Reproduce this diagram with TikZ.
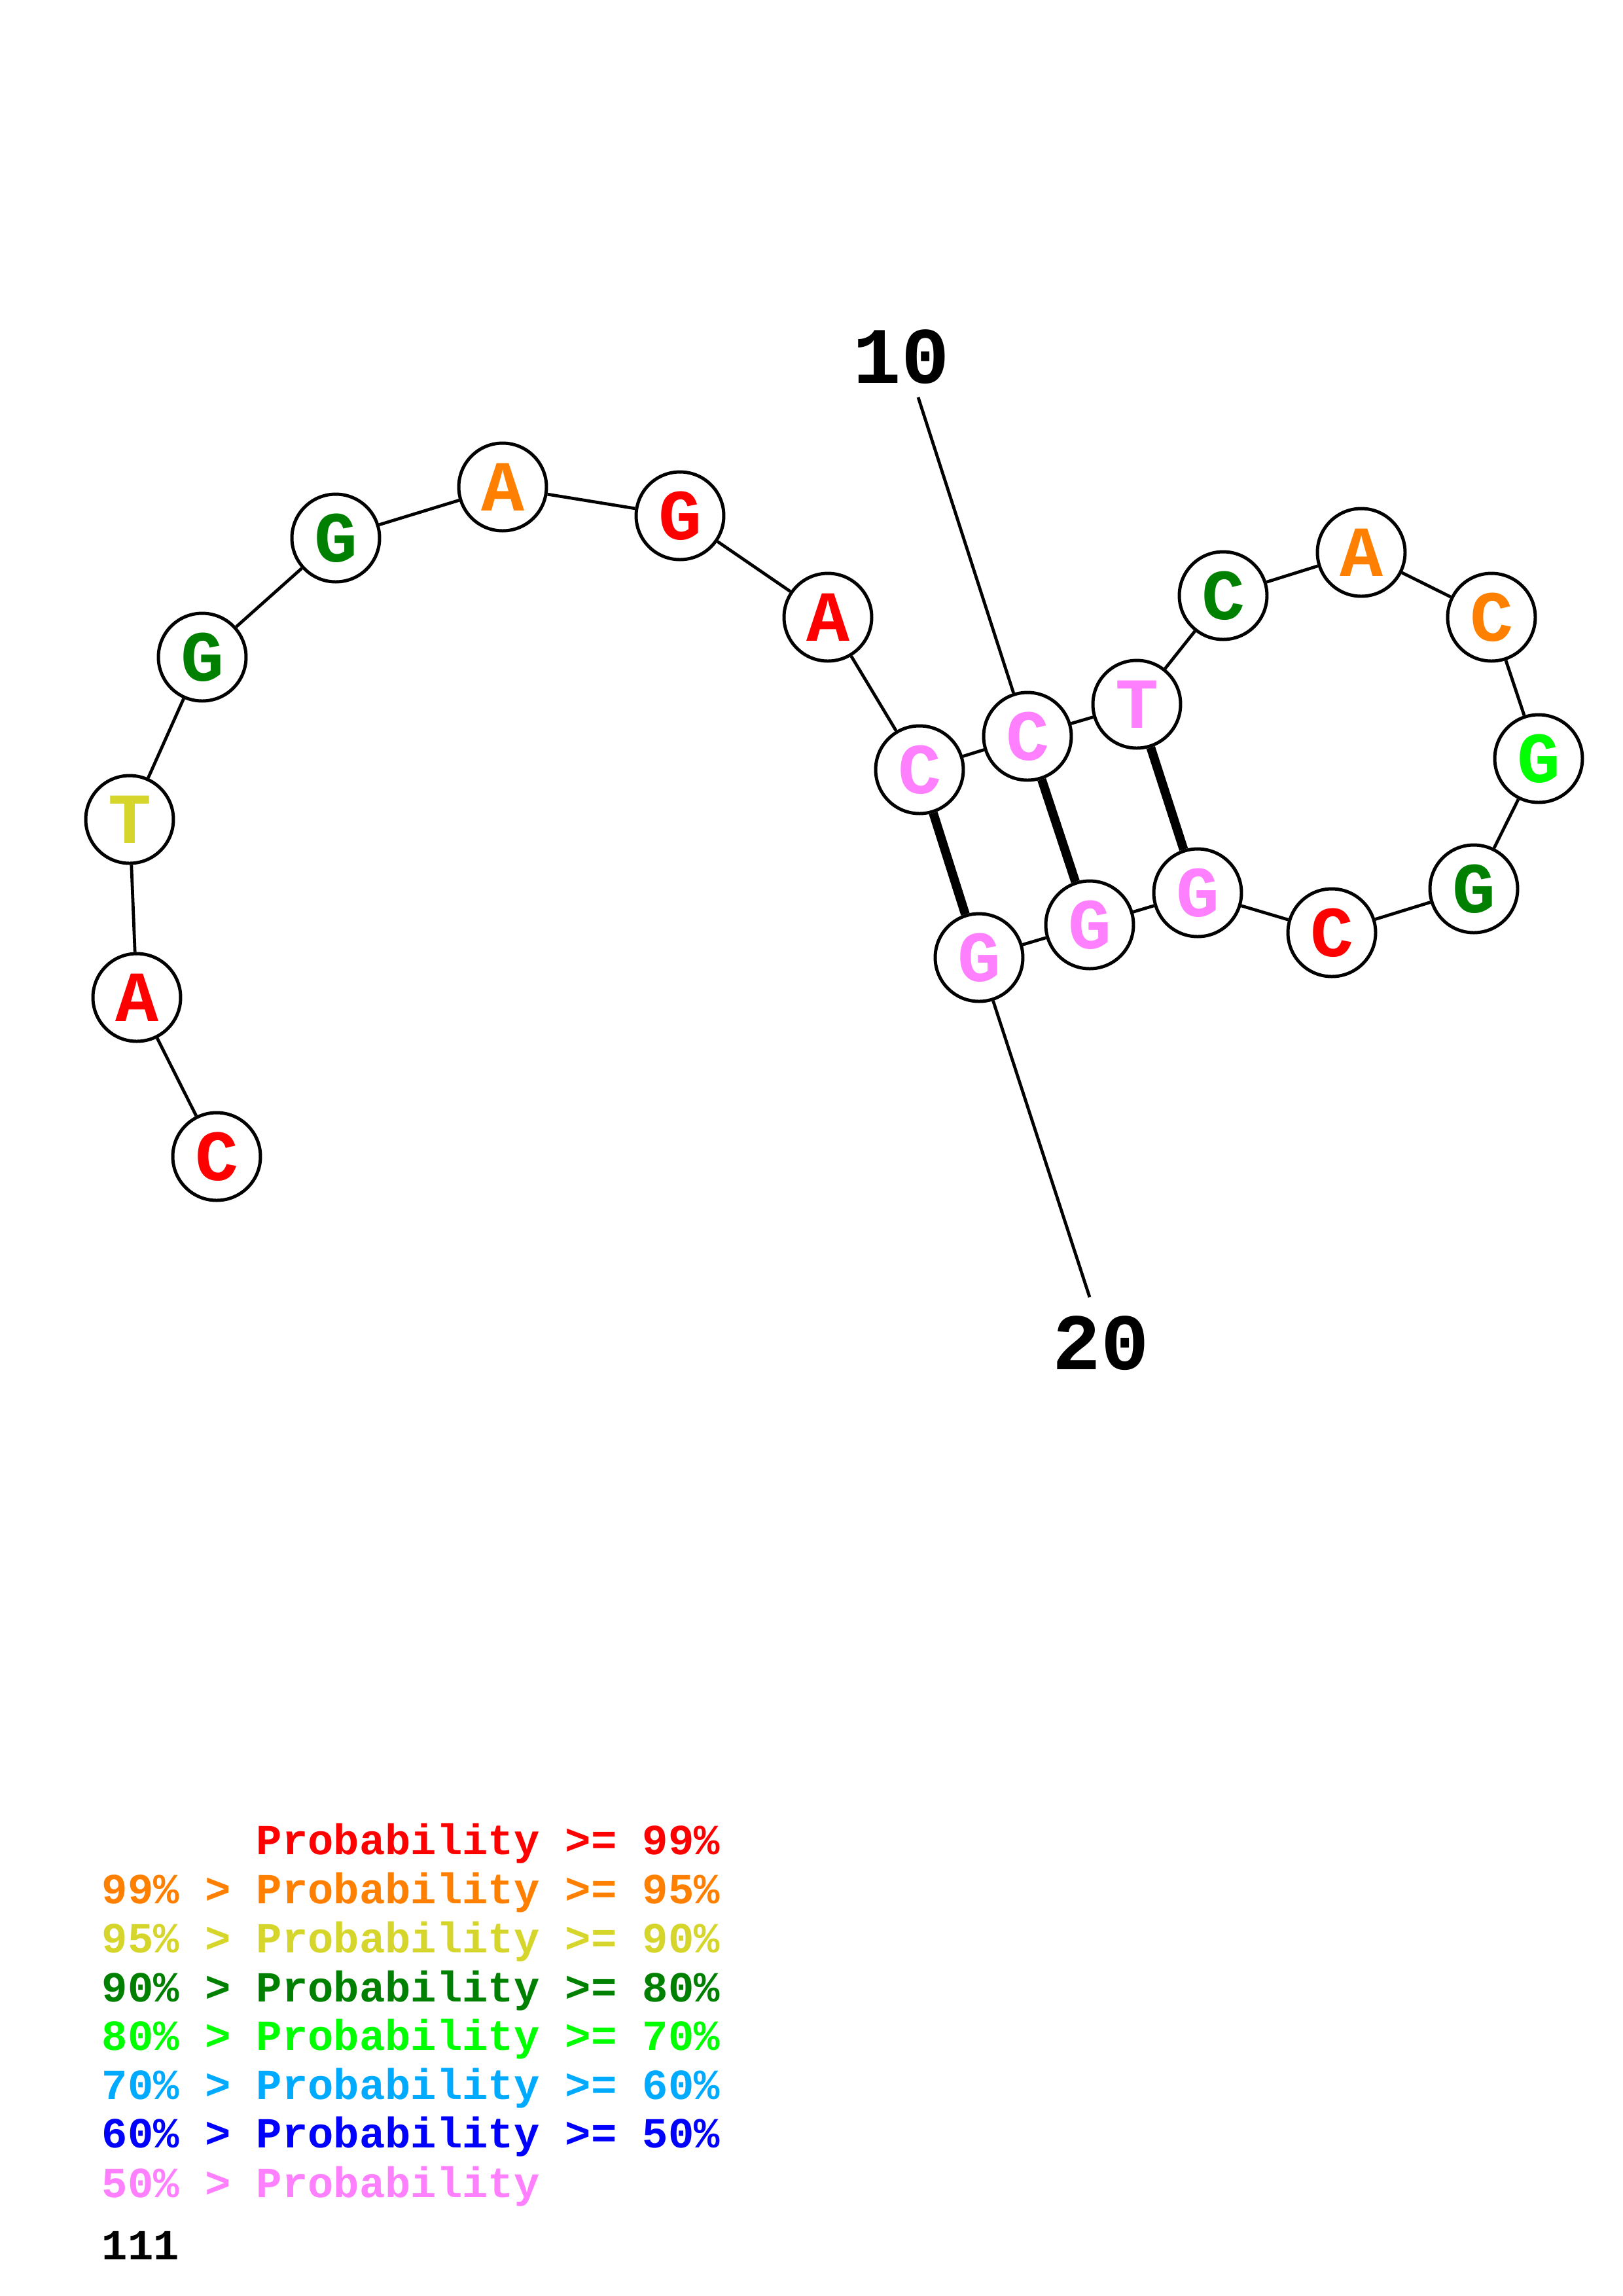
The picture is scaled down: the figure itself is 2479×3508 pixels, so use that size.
\documentclass[tikz,border=0pt]{standalone}
\usepackage{fontspec}
\setmonofont{Liberation Mono}
\definecolor{pR}{RGB}{255,0,0}
\definecolor{pO}{RGB}{255,128,0}
\definecolor{pY}{RGB}{213,213,43}
\definecolor{pDG}{RGB}{0,128,0}
\definecolor{pG}{RGB}{0,255,0}
\definecolor{pLB}{RGB}{0,170,255}
\definecolor{pB}{RGB}{0,0,255}
\definecolor{pP}{RGB}{255,128,255}
\tikzset{
  nt/.style={circle,draw=black,line width=1.2pt,fill=white,minimum size=11.35mm,inner sep=0pt,
    font=\ttfamily\bfseries\fontsize{26.5}{26.5}\selectfont},
  bb/.style={line width=1.15pt,black},
  bp/.style={line width=3.3pt,black},
  numlab/.style={font=\ttfamily\bfseries\fontsize{29.5}{29.5}\selectfont,inner sep=0pt},
  leg/.style={anchor=base west,inner sep=0pt,font=\ttfamily\bfseries\fontsize{15.8}{15.8}\selectfont}
}
\begin{document}
\begin{tikzpicture}[x=0.084712mm,y=-0.084712mm]
\useasboundingbox[fill=white] (0,0) rectangle (2479,3508);
% nucleotides
\node[nt,text=pR]  (n1)  at (331,1767) {C};
\node[nt,text=pR]  (n2)  at (209,1524) {A};
\node[nt,text=pY]  (n3)  at (198,1252) {T};
\node[nt,text=pDG] (n4)  at (309,1004) {G};
\node[nt,text=pDG] (n5)  at (513,822)  {G};
\node[nt,text=pO]  (n6)  at (768,744)  {A};
\node[nt,text=pR]  (n7)  at (1039,788) {G};
\node[nt,text=pR]  (n8)  at (1265,943) {A};
\node[nt,text=pP]  (n9)  at (1405,1176) {C};
\node[nt,text=pP]  (n10) at (1570,1125) {C};
\node[nt,text=pP]  (n11) at (1737,1076) {T};
\node[nt,text=pDG] (n12) at (1869,910)  {C};
\node[nt,text=pO]  (n13) at (2080,844)  {A};
\node[nt,text=pO]  (n14) at (2279,943)  {C};
\node[nt,text=pG]  (n15) at (2351,1159) {G};
\node[nt,text=pDG] (n16) at (2252,1358) {G};
\node[nt,text=pR]  (n17) at (2035,1425) {C};
\node[nt,text=pP]  (n18) at (1830,1364) {G};
\node[nt,text=pP]  (n19) at (1665,1413) {G};
\node[nt,text=pP]  (n20) at (1496,1463) {G};
% backbone
\foreach \a/\b in {1/2,2/3,3/4,4/5,5/6,6/7,7/8,8/9,9/10,10/11,11/12,12/13,13/14,14/15,15/16,16/17,17/18,18/19,19/20}
  \draw[bb] (n\a) -- (n\b);
% base pairs
\draw[bp] (n9) -- (n20);
\draw[bp] (n10) -- (n19);
\draw[bp] (n11) -- (n18);
% number labels
\node[numlab] (lab10) at (1377,545) {10};
\node[numlab] (lab20) at (1682,2052) {20};
\coordinate (c10) at (1403,607);
\coordinate (c20) at (1665,1982);
\draw[bb] (c10) -- (n10);
\draw[bb] (c20) -- (n20);
% legend
\node[leg,text=pR]  (g1) at (391,2833) {Probability >= 99\%};
\node[leg,text=pO]  (g2) at (155,2908) {99\% > Probability >= 95\%};
\node[leg,text=pY]  (g3) at (155,2983) {95\% > Probability >= 90\%};
\node[leg,text=pDG] (g4) at (155,3058) {90\% > Probability >= 80\%};
\node[leg,text=pG]  (g5) at (155,3132) {80\% > Probability >= 70\%};
\node[leg,text=pLB] (g6) at (155,3207) {70\% > Probability >= 60\%};
\node[leg,text=pB]  (g7) at (155,3281) {60\% > Probability >= 50\%};
\node[leg,text=pP]  (g8) at (155,3357) {50\% > Probability};
\node[leg,text=black] (g9) at (155,3452) {111};
\end{tikzpicture}
\end{document}
